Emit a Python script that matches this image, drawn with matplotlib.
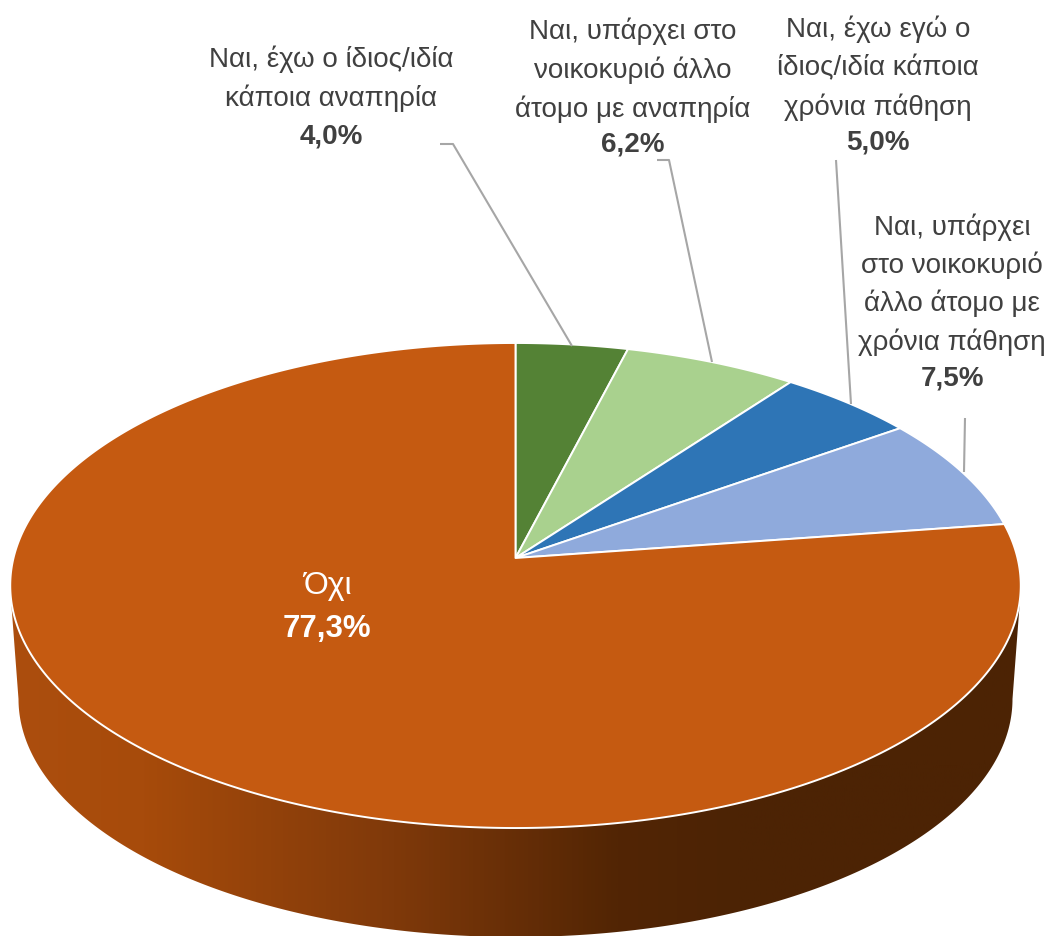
"""Pie chart in perspective, drawn in pixel coordinates of the 1052x936 picture."""
import matplotlib
matplotlib.use("Agg")
import matplotlib.pyplot as plt
import numpy as np
from matplotlib.colors import LinearSegmentedColormap
from matplotlib.patches import Polygon

labels = [
    "Ναι, έχω ο ίδιος/ιδία\nκάποια αναπηρία",
    "Ναι, υπάρχει στο\nνοικοκυριό άλλο\nάτομο με αναπηρία",
    "Ναι, έχω εγώ ο\nίδιος/ιδία κάποια\nχρόνια πάθηση",
    "Ναι, υπάρχει\nστο νοικοκυριό\nάλλο άτομο με\nχρόνια πάθηση",
    "Όχι",
]
values = [4.0, 6.2, 5.0, 7.5, 77.3]
colors = ["#548235", "#A9D18E", "#2E75B6", "#8FAADC", "#C55A11"]

# first line centre of each label, line step, centre of the value line
label_x = [331, 633, 878, 952, 327]
label_y = [59, 31, 29, 227, 586]
line_step = [39, 39, 39, 38.3, 0]
value_y = [136, 144, 143, 379, 629]
label_size = [20, 20, 20, 20, 23]
value_size = [20, 20, 20, 20, 22.5]
leaders = [
    [(440, 144), (453, 144), (572, 346)],
    [(657, 160), (669, 160), (712, 362)],
    [(836, 160), (851, 404)],
    [(965, 418), (964, 472)],
]

FONT = "Liberation Sans"
TEXT = "#404040"
LEAD = "#A6A6A6"

# perspective of the disc: apex at (CX, CY), far rim y=343, near rim y=828
CX, CY = 515.5, 558.0
A, B, P = 502.0, 239.4, 0.1134


def project(theta):
    """Clockwise angle from 12 o'clock to screen x, y on the rim (r=1) of the disc."""
    u, v = np.sin(theta), np.cos(theta)
    d = 1 + P * v
    return CX + A * u / d, CY - B * v / d


fig = plt.figure(figsize=(10.52, 9.36), dpi=100)
ax = fig.add_axes([0, 0, 1, 1])
ax.axis("off")

# side wall: top rim to a slightly narrower lower ellipse
phi = np.linspace(np.pi, 0, 300)
bx = 515.5 + 497 * np.cos(phi)
by = 699 + 238 * np.sin(phi)
th = np.linspace(np.radians(98), np.radians(262), 400)
tx, ty = project(th)
wall = Polygon(np.vstack([np.column_stack([bx, by]), np.column_stack([tx, ty])]),
               closed=True, facecolor="none", edgecolor="none")
ax.add_patch(wall)
cmap = LinearSegmentedColormap.from_list(
    "wall", [(0, "#AC4E0E"), (0.13, "#A74B0B"), (0.38, "#7F390A"),
             (0.6, "#522504"), (0.72, "#4C2304"), (1, "#4C2304")])
img = ax.imshow(np.linspace(0, 1, 512)[None, :], cmap=cmap, aspect="auto",
                extent=(11, 1021, 936, 590), zorder=1)
img.set_clip_path(wall)
ax.set_xlim(0, 1052)
ax.set_ylim(936, 0)

# top surface
start = 0.0
for val, col in zip(values, colors):
    end = start + val / sum(values) * 2 * np.pi
    x, y = project(np.linspace(start, end, max(int(val * 8), 30)))
    pts = np.vstack([[CX, CY], np.column_stack([x, y])])
    ax.add_patch(Polygon(pts, closed=True, facecolor=col, edgecolor="white",
                         linewidth=1.4, joinstyle="round", zorder=2))
    start = end

for pts in leaders:
    xs, ys = zip(*pts)
    ax.plot(xs, ys, color=LEAD, lw=1.5, zorder=3, solid_capstyle="butt")

for i, (lab, val) in enumerate(zip(labels, values)):
    col = "white" if i == 4 else TEXT
    for k, line in enumerate(lab.split("\n")):
        ax.text(label_x[i], label_y[i] + k * line_step[i], line, color=col,
                family=FONT, fontsize=label_size[i], ha="center", va="center", zorder=4)
    ax.text(label_x[i], value_y[i], f"{val:.1f}%".replace(".", ","), color=col,
            family=FONT, fontsize=value_size[i], weight="bold",
            ha="center", va="center", zorder=4)

fig.savefig("out.png", dpi=100)
